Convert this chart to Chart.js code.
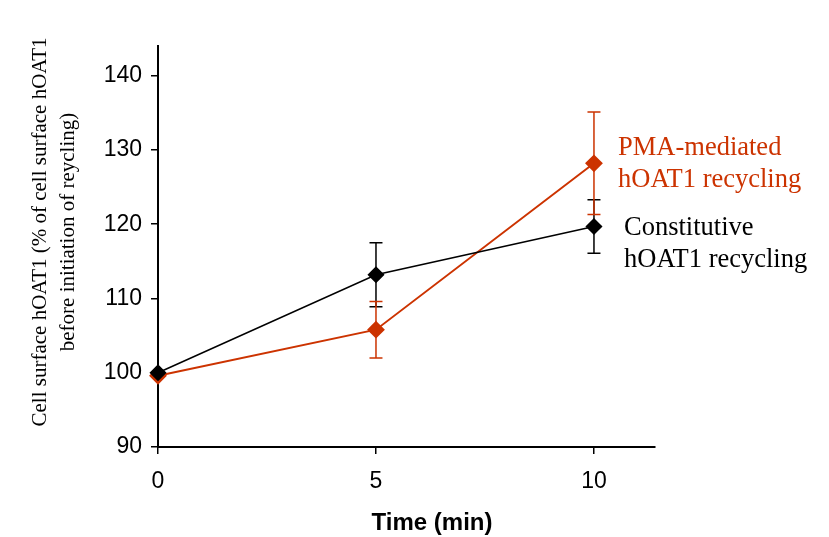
<!DOCTYPE html>
<html>
<head>
<meta charset="utf-8">
<script src="https://cdn.jsdelivr.net/npm/chart.js@4/dist/chart.umd.min.js"></script>
<style>
  html, body { margin: 0; padding: 0; background: #fff; }
  #wrap { width: 829px; height: 537px; }
</style>
</head>
<body>
<div id="wrap"><canvas id="chart" width="829" height="537"></canvas></div>
<script>
"use strict";

// time points (min)
var timePoints = [0, 5, 10];
var xTicks = [0, 5, 10];
var yTicks = [90, 100, 110, 120, 130, 140];

// constitutive recycling
var constitutiveValues = [100, 113.2, 119.7];
var constitutiveErrors = [0, 4.3, 3.6];

// PMA-mediated recycling
var pmaValues = [99.6, 105.8, 128.2];
var pmaErrors = [0, 3.8, 6.9];

var seriesLabels = [
    ["PMA-mediated", "hOAT1 recycling"],
    ["Constitutive", "hOAT1 recycling"]
];
var xTitle = "Time (min)";
var yTitle = ["Cell surface hOAT1 (% of cell surface hOAT1", "before initiation of reycling)"];

var RED = "#cc3300";
var SERIF = "'Liberation Serif', 'Times New Roman', serif";
var SANS = "'Liberation Sans', Arial, sans-serif";

function toPoints(xs, ys) {
    return xs.map(function (x, i) { return { x: x, y: ys[i] }; });
}

/**
 * Draws vertical error bars with caps for every dataset that has `errors`.
 */
var errorBars = {
    id: "errorBars",
    afterDatasetsDraw: function (chart) {
        var ctx = chart.ctx;
        var xs = chart.scales.x, ys = chart.scales.y;
        chart.data.datasets.forEach(function (ds) {
            if (!ds.errors) { return; }
            ctx.save();
            ctx.strokeStyle = ds.borderColor;
            ctx.lineWidth = 1.5;
            ds.data.forEach(function (p, i) {
                var e = ds.errors[i];
                if (!e) { return; }
                var px = xs.getPixelForValue(p.x);
                var top = ys.getPixelForValue(p.y + e);
                var bot = ys.getPixelForValue(p.y - e);
                ctx.beginPath();
                ctx.moveTo(px, top); ctx.lineTo(px, bot);
                ctx.moveTo(px - 6.5, top); ctx.lineTo(px + 6.5, top);
                ctx.moveTo(px - 6.5, bot); ctx.lineTo(px + 6.5, bot);
                ctx.stroke();
            });
            ctx.restore();
        });
    }
};

/**
 * Series labels next to the line ends and the two axis titles.
 */
var chartText = {
    id: "chartText",
    afterDraw: function (chart) {
        var ctx = chart.ctx;
        ctx.save();
        ctx.font = "26.5px " + SERIF;
        ctx.textBaseline = "middle";
        ctx.textAlign = "left";
        ctx.fillStyle = RED;
        ctx.fillText(seriesLabels[0][0], 618, 148);
        ctx.fillText(seriesLabels[0][1], 618, 180);
        ctx.fillStyle = "#000";
        ctx.fillText(seriesLabels[1][0], 624, 228);
        ctx.fillText(seriesLabels[1][1], 624, 260);

        ctx.font = "bold 24px " + SANS;
        ctx.textAlign = "center";
        ctx.fillText(xTitle, 432, 523);

        ctx.font = "21px " + SERIF;
        ctx.translate(0, 232);
        ctx.rotate(-Math.PI / 2);
        ctx.fillText(yTitle[0], 0, 40);
        ctx.fillText(yTitle[1], 0, 68);
        ctx.restore();
    }
};

var config = {
    type: "line",
    data: {
        datasets: [{
            label: "Constitutive",
            data: toPoints(timePoints, constitutiveValues),
            errors: constitutiveErrors,
            borderColor: "#000",
            backgroundColor: "#000",
            borderWidth: 1.5,
            pointStyle: "rectRot",
            pointRadius: 7.5,
            pointHoverRadius: 7.5,
            clip: false
        }, {
            label: "PMA-mediated",
            data: toPoints(timePoints, pmaValues),
            errors: pmaErrors,
            borderColor: RED,
            backgroundColor: RED,
            borderWidth: 2,
            pointStyle: "rectRot",
            pointRadius: 7.5,
            pointHoverRadius: 7.5,
            clip: false
        }]
    },
    plugins: [errorBars, chartText],
    options: {
        responsive: false,
        animation: false,
        layout: { padding: { top: 46, right: 174, left: 0, bottom: 0 } },
        plugins: {
            legend: { display: false },
            tooltip: { enabled: false }
        },
        scales: {
            x: {
                type: "linear",
                min: 0,
                max: 11.4,
                afterBuildTicks: function (axis) {
                    axis.ticks = xTicks.map(function (v) { return { value: v }; });
                },
                afterFit: function (axis) { axis.height = 90; },
                border: { color: "#000", width: 2 },
                grid: { drawOnChartArea: false, color: "#000", tickLength: 7, lineWidth: 1.5 },
                ticks: {
                    color: "#000",
                    font: { family: SANS, size: 23 },
                    padding: 14,
                    maxRotation: 0
                }
            },
            y: {
                min: 90,
                max: 144,
                afterBuildTicks: function (axis) {
                    axis.ticks = yTicks.map(function (v) { return { value: v }; });
                },
                afterFit: function (axis) { axis.width = 158; },
                border: { color: "#000", width: 2 },
                grid: { drawOnChartArea: false, color: "#000", tickLength: 7, lineWidth: 1.5 },
                ticks: {
                    color: "#000",
                    font: { family: SANS, size: 23 },
                    padding: 9
                }
            }
        }
    }
};

new Chart(document.getElementById("chart"), config);
</script>
</body>
</html>
